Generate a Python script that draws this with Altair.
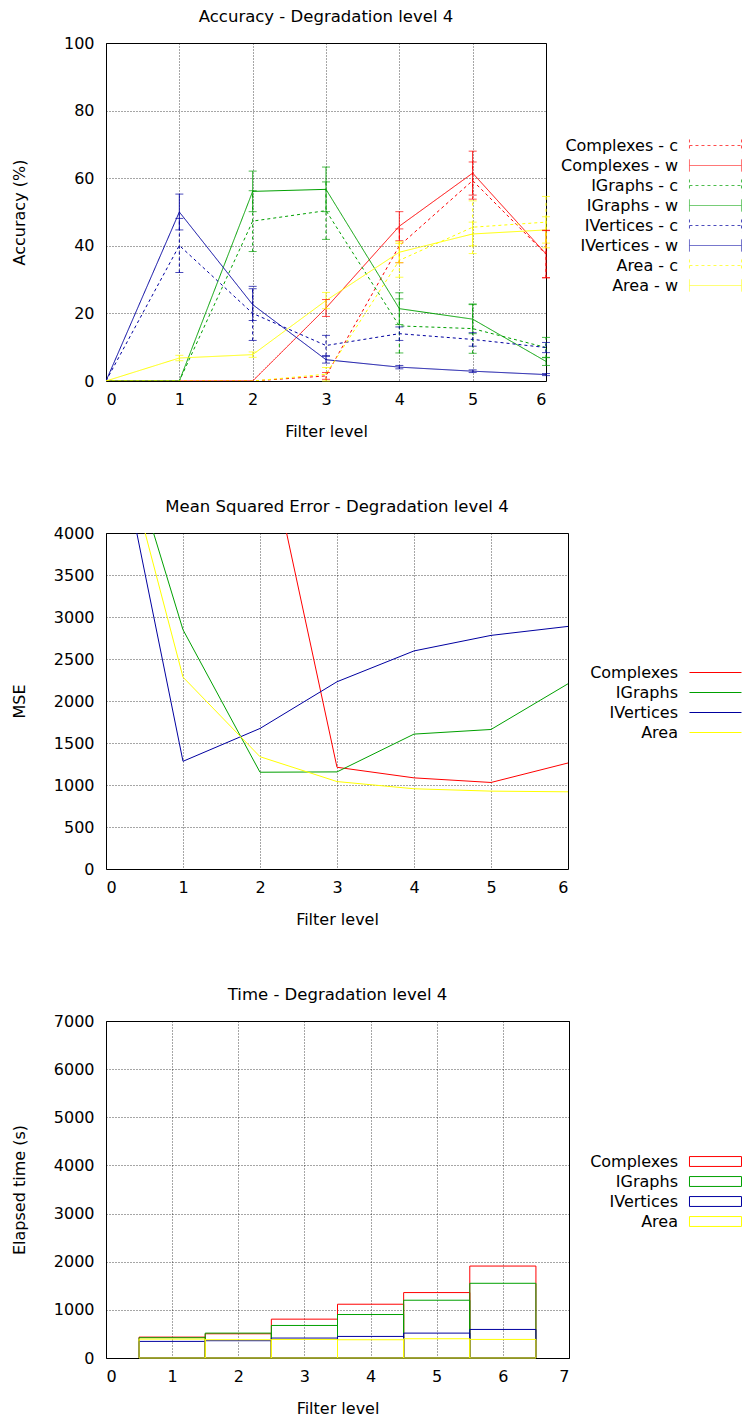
import altair as alt
import pandas as pd

FONT = "DejaVu Sans"

# ---------------- Accuracy (top) ----------------
levels = [0, 1, 2, 3, 4, 5, 6]
acc_series = ["Complexes - c", "Complexes - w", "IGraphs - c", "IGraphs - w",
              "IVertices - c", "IVertices - w", "Area - c", "Area - w"]
acc_colors = ["#ff0000", "#ff0000", "#00a000", "#00a000",
              "#0000a0", "#0000a0", "#ffff00", "#ffff00"]
acc_dashes = [[3, 3], [1, 0], [3, 3], [1, 0], [3, 3], [1, 0], [3, 3], [1, 0]]

complexes_c = [0, 0, 0, 1.5, 40.0, 59.3, 37.5]
complexes_c_err = [0, 0, 0, 1.0, 5.0, 5.5, 7.0]
complexes_w = [0, 0, 0, 21.6, 45.8, 61.5, 37.6]
complexes_w_err = [0, 0, 0, 2.5, 4.3, 6.5, 7.0]
igraphs_c = [0, 0, 47.3, 50.4, 16.3, 15.5, 9.9]
igraphs_c_err = [0, 0, 9.0, 8.5, 8.0, 7.3, 3.0]
igraphs_w = [0, 0, 56.1, 56.7, 21.4, 18.3, 5.8]
igraphs_w_err = [0, 0, 6.0, 6.6, 4.7, 4.3, 1.2]
ivertices_c = [0, 40.1, 20.0, 10.5, 14.0, 12.3, 9.9]
ivertices_c_err = [0, 8.0, 8.0, 3.0, 2.0, 2.0, 1.5]
ivertices_w = [0, 50.0, 22.6, 6.3, 4.1, 2.9, 1.9]
ivertices_w_err = [0, 5.3, 4.7, 1.0, 0.5, 0.4, 0.3]
area_c = [0, 0, 0, 2.0, 35.7, 45.5, 47.0]
area_c_err = [0, 0, 0, 2.0, 5.0, 7.8, 7.6]
area_w = [0, 6.8, 7.8, 23.8, 38.1, 43.5, 44.7]
area_w_err = [0, 0.8, 0.8, 2.4, 3.1, 3.5, 3.9]

acc_values = [complexes_c, complexes_w, igraphs_c, igraphs_w,
              ivertices_c, ivertices_w, area_c, area_w]
acc_errors = [complexes_c_err, complexes_w_err, igraphs_c_err, igraphs_w_err,
              ivertices_c_err, ivertices_w_err, area_c_err, area_w_err]

acc_rows = []
for name, vals, errs in zip(acc_series, acc_values, acc_errors):
    for x, v, e in zip(levels, vals, errs):
        acc_rows.append({"x": x, "value": v, "err": e, "series": name})
acc_df = pd.DataFrame(acc_rows)

# ---------------- MSE (middle) ----------------
mse_series = ["Complexes", "IGraphs", "IVertices", "Area"]
mse_colors = ["#ff0000", "#00a000", "#0000a0", "#ffff00"]
mse_complexes = [9000, 7000, 5470, 1211, 1085, 1030, 1262]
mse_igraphs = [5858, 2848, 1152, 1156, 1606, 1661, 2205]
mse_ivertices = [5811, 1282, 1673, 2229, 2596, 2781, 2888]
mse_area = [5776, 2284, 1337, 1041, 955, 927, 919]
mse_values = [mse_complexes, mse_igraphs, mse_ivertices, mse_area]
mse_rows = []
for name, vals in zip(mse_series, mse_values):
    for x, v in zip(levels, vals):
        mse_rows.append({"x": x, "value": v, "series": name})
mse_df = pd.DataFrame(mse_rows)

# ---------------- Time (bottom) ----------------
time_levels = [1, 2, 3, 4, 5, 6]
time_complexes = [434, 503, 807, 1117, 1359, 1910]
time_igraphs = [421, 517, 676, 903, 1200, 1552]
time_ivertices = [345, 359, 414, 448, 517, 593]
time_area = [393, 379, 386, 379, 400, 386]
time_values = [time_complexes, time_igraphs, time_ivertices, time_area]
time_rows = []
for name, vals in zip(mse_series, time_values):
    for x, v in zip(time_levels, vals):
        time_rows.append({"x": x, "value": v, "series": name})
time_df = pd.DataFrame(time_rows)


def title(text):
    return alt.TitleParams(text=text, fontSize=16.5, fontWeight="normal", font=FONT,
                           anchor="middle", offset=10, color="#000")


def xaxis(values):
    return alt.Axis(values=values, format="d", title="Filter level",
                    labelPadding=10, titlePadding=16)


def yaxis(values, text, tx, ty):
    return alt.Axis(values=values, format="d", title=text,
                    labelPadding=12, titleX=tx, titleY=ty)


def legend(path, lx, ly):
    return alt.Legend(title=None, orient="none", legendX=lx, legendY=ly,
                      labelAlign="right", labelOffset=0, symbolOffset=0,
                      symbolType=path, symbolSize=324, symbolStrokeWidth=1,
                      rowPadding=2, labelFontSize=16,
                      labelFont=FONT, padding=0, labelLimit=300,
                      labelColor="#000")


# top chart
acc_leg = legend("M2.33,-0.67L2.33,0.67M2.33,0L8.11,0M8.11,-0.67L8.11,0.67", 553, 93)
acc_x = alt.X("x:Q", scale=alt.Scale(domain=[0, 6], nice=False), axis=xaxis(levels))
acc_color = alt.Color("series:N", scale=alt.Scale(domain=acc_series, range=acc_colors), legend=acc_leg)
acc_dash = alt.StrokeDash("series:N", scale=alt.Scale(domain=acc_series, range=acc_dashes), legend=acc_leg)
acc_y = alt.Y("value:Q", scale=alt.Scale(domain=[0, 100], nice=False),
              axis=yaxis([0, 20, 40, 60, 80, 100], "Accuracy (%)", -79, 169))

acc_lines = alt.Chart(acc_df).mark_line(strokeWidth=1, clip=True).encode(
    x=acc_x, y=acc_y, color=acc_color, strokeDash=acc_dash)
acc_bars = alt.Chart(acc_df).transform_filter("datum.err > 0").transform_calculate(
    lo="max(0, datum.value - datum.err)", hi="datum.value + datum.err"
).mark_rule(strokeWidth=1).encode(
    x=acc_x, y=alt.Y("lo:Q"), y2="hi:Q", color=acc_color, strokeDash=acc_dash)
acc_caps = alt.Chart(acc_df).transform_filter("datum.err > 0").transform_calculate(
    lo="max(0, datum.value - datum.err)", hi="datum.value + datum.err"
).transform_fold(["lo", "hi"], as_=["end", "cap"]).mark_tick(
    orient="horizontal", size=8, thickness=1).encode(
    x=acc_x, y=alt.Y("cap:Q"), color=acc_color)

top = alt.layer(acc_lines, acc_bars, acc_caps).properties(
    width=440, height=338, title=title("Accuracy - Degradation level 4"))

# middle chart
mse_leg = legend("M2.33,0L8.11,0", 553, 130)
mid = alt.Chart(mse_df).mark_line(strokeWidth=1, clip=True).encode(
    x=alt.X("x:Q", scale=alt.Scale(domain=[0, 6], nice=False), axis=xaxis(levels)),
    y=alt.Y("value:Q", scale=alt.Scale(domain=[0, 4000], nice=False),
            axis=yaxis(list(range(0, 4001, 500)), "MSE", -79, 168)),
    color=alt.Color("series:N", scale=alt.Scale(domain=mse_series, range=mse_colors), legend=mse_leg),
).properties(width=462, height=336, title=title("Mean Squared Error - Degradation level 4"))

# bottom chart
time_leg = legend("M2.33,-0.55H8.11V0.55H2.33Z", 553, 131)
bot = alt.Chart(time_df).transform_calculate(
    x0="datum.x - 0.5", x1="datum.x + 0.5"
).mark_rect(fill="transparent", strokeWidth=1).encode(
    x=alt.X("x0:Q", scale=alt.Scale(domain=[0, 7], nice=False),
            axis=xaxis([0, 1, 2, 3, 4, 5, 6, 7])),
    x2="x1:Q",
    y=alt.Y("value:Q", scale=alt.Scale(domain=[0, 7000], nice=False),
            axis=yaxis(list(range(0, 7001, 1000)), "Elapsed time (s)", -79, 168.5)),
    y2=alt.datum(0),
    stroke=alt.Stroke("series:N", scale=alt.Scale(domain=mse_series, range=mse_colors), legend=time_leg),
).properties(width=463, height=337, title=title("Time - Degradation level 4"))

chart = alt.vconcat(top, mid, bot, spacing=58).resolve_scale(
    color="independent", strokeDash="independent", stroke="independent"
).resolve_legend(color="independent", strokeDash="independent", stroke="independent"
).properties(padding={"left": 2, "top": 0, "right": 0, "bottom": 0},
             background="white"
).configure_view(stroke="#000", strokeWidth=1
).configure_axis(
    labelFont=FONT, labelFontSize=16, labelColor="#000",
    titleFont=FONT, titleFontSize=16, titleFontWeight="normal", titleColor="#000",
    grid=True, gridColor="#000", gridDash=[1, 2], gridOpacity=0.7, gridWidth=1,
    domain=False, ticks=False
)

chart.save("out.html", embed_options={"renderer": "svg", "actions": False})
